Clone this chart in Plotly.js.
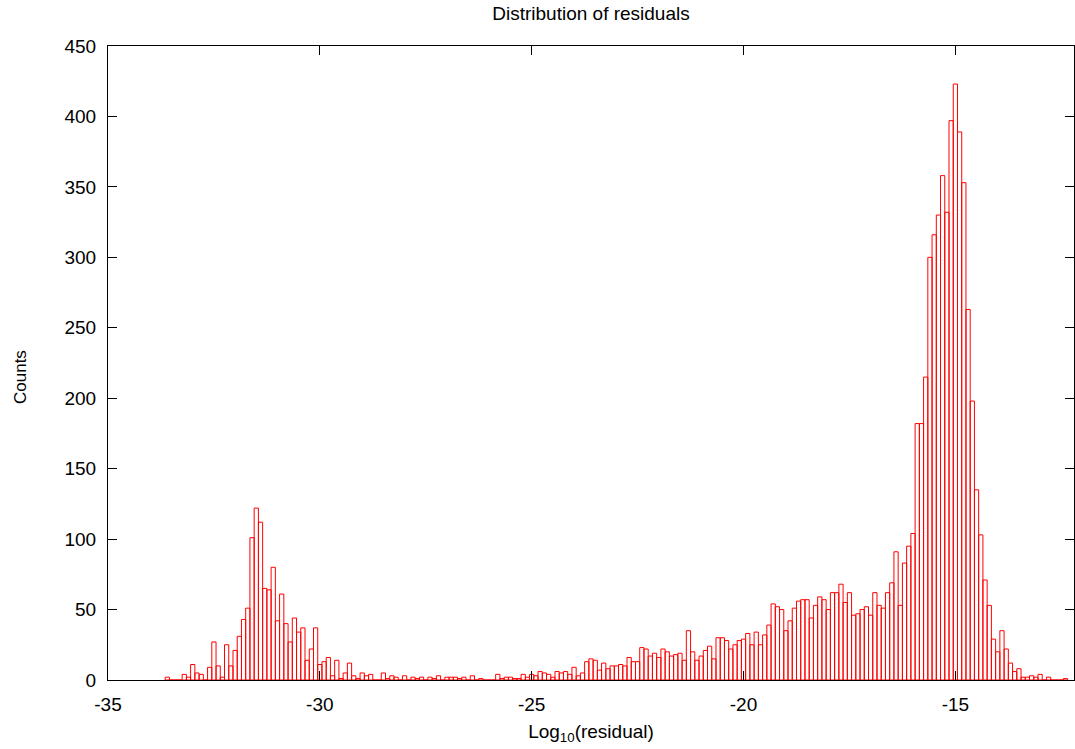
<!DOCTYPE html>
<html>
<head>
<meta charset="utf-8">
<script src="https://cdn.plot.ly/plotly-3.0.1.min.js"></script>
<style>html,body{margin:0;padding:0;background:#fff;}#chart{width:1075px;height:749px;}</style>
</head>
<body>
<div id="chart"></div>
<script>
// Histogram of log10(residual), bins of width 0.1 starting at centre -33.6
var binStart = -33.6;
var binWidth = 0.1;

// counts, -33.6 ... -28.7
var countsLeft = [2, 0, 0, 0, 4, 2, 11, 5, 4, 0,
                  9, 27, 10, 2, 25, 10, 21, 31, 43, 51,
                  101, 122, 112, 65, 64, 80, 42, 61, 40, 27,
                  44, 34, 37, 14, 22, 37, 11, 13, 16, 3,
                  14, 1, 5, 12, 3, 1, 5, 3, 4, 0];
// counts, -28.6 ... -19.6
var countsMiddle = [0, 5, 1, 3, 2, 0, 3, 0, 2, 1,
                    2, 0, 2, 1, 3, 0, 2, 2, 2, 1,
                    2, 0, 3, 0, 1, 0, 0, 0, 4, 1,
                    2, 2, 1, 1, 4, 2, 4, 3, 6, 5,
                    4, 2, 6, 5, 6, 4, 9, 3, 5, 13,
                    15, 14, 7, 12, 8, 10, 10, 11, 10, 16,
                    13, 13, 23, 22, 17, 19, 16, 22, 20, 17,
                    18, 19, 14, 35, 20, 14, 17, 21, 24, 15,
                    30, 30, 28, 22, 25, 28, 29, 33, 25, 34,
                    25];
// counts, -19.5 ... -12.4
var countsRight = [32, 39, 54, 52, 50, 35, 42, 51, 56, 57,
                   57, 44, 53, 59, 57, 50, 62, 62, 68, 55,
                   62, 46, 47, 50, 52, 46, 62, 53, 51, 62,
                   69, 91, 53, 83, 95, 104, 182, 182, 215, 300,
                   316, 330, 358, 332, 397, 423, 389, 353, 263, 198,
                   135, 103, 71, 53, 29, 20, 35, 22, 12, 6,
                   8, 2, 2, 3, 2, 4, 0, 2, 0, 0,
                   0, 1];
var counts = countsLeft.concat(countsMiddle, countsRight);

var xTickVals = [-35, -30, -25, -20, -15];
var xTickText = ['-35', '-30', '-25', '-20', '-15'];
var yTickVals = [0, 50, 100, 150, 200, 250, 300, 350, 400, 450];
var yTickText = ['0', '50', '100', '150', '200', '250', '300', '350', '400', '450'];

var FONT = 'Liberation Sans, Arial, Helvetica, sans-serif';

var trace = {
  type: 'bar',
  x0: binStart,
  dx: binWidth,
  y: counts,
  width: binWidth,
  marker: {color: 'rgba(255,255,255,0)', line: {color: '#ff0000', width: 1}},
  hoverinfo: 'x+y'
};

var axisCommon = {
  showline: true, linecolor: '#000', linewidth: 1, mirror: 'ticks',
  ticks: 'inside', ticklen: 9, tickwidth: 1, tickcolor: '#000',
  showgrid: false, zeroline: false,
  tickfont: {family: FONT, size: 19, color: '#000'}
};

var layout = {
  width: 1075, height: 749,
  margin: {l: 108, r: 1, t: 46, b: 69},
  paper_bgcolor: '#fff', plot_bgcolor: '#fff',
  showlegend: false,
  bargap: 0,
  title: {text: 'Distribution of residuals', font: {family: FONT, size: 19, color: '#000'},
          x: 0.5, xref: 'paper', y: 0.982, yref: 'container', yanchor: 'middle'},
  xaxis: Object.assign({}, axisCommon, {
    range: [-35, -12.2], tickmode: 'array', tickvals: xTickVals, ticktext: xTickText,
    ticklabelstandoff: 7,
    title: {text: 'Log<sub>10</sub>(residual)', font: {family: FONT, size: 19, color: '#000'}, standoff: 10}
  }),
  yaxis: Object.assign({}, axisCommon, {
    range: [0, 450], tickmode: 'array', tickvals: yTickVals, ticktext: yTickText,
    ticklabelstandoff: 7
  }),
  annotations: [{
    text: 'Counts', textangle: -90, showarrow: false,
    xref: 'paper', yref: 'paper', x: (20 - 108) / 966, y: (680 - 377) / 634,
    xanchor: 'center', yanchor: 'middle',
    font: {family: FONT, size: 17, color: '#000'}
  }]
};

Plotly.newPlot('chart', [trace], layout, {displayModeBar: false, staticPlot: true});
</script>
</body>
</html>
